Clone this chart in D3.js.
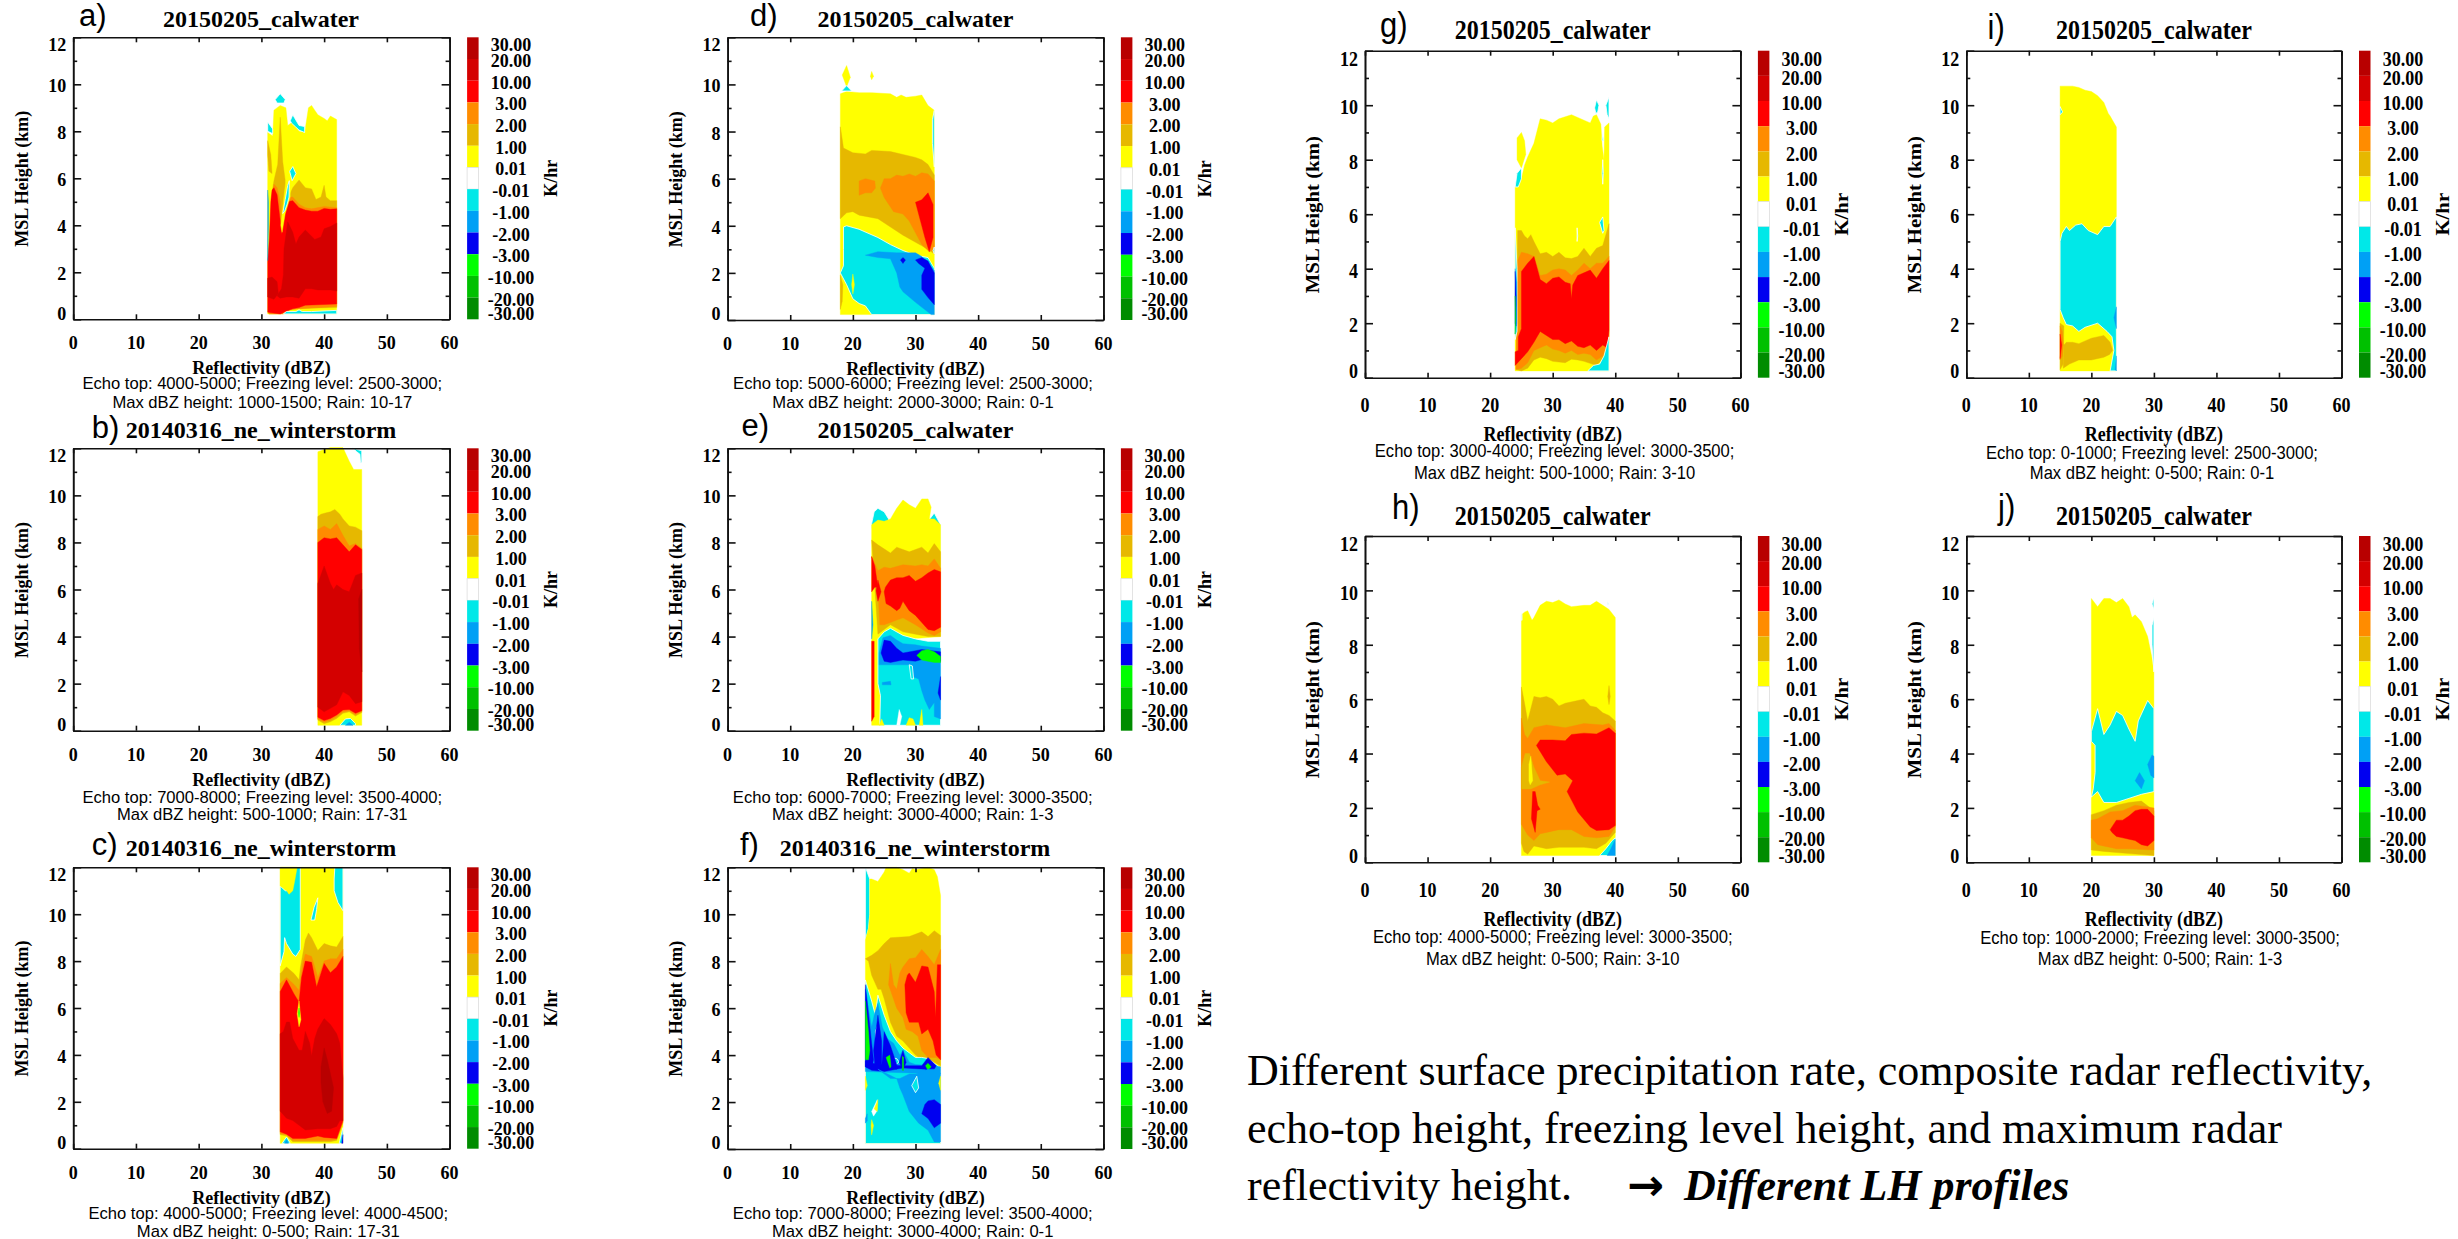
<!DOCTYPE html>
<html>
<head>
<meta charset="utf-8">
<script src="https://cdn.jsdelivr.net/npm/d3@7"></script>
<style>
  html, body { margin: 0; padding: 0; background: #fff; overflow: hidden; }
  svg { display: block; }
  .ax path, .ax line { stroke: #111; }
</style>
</head>
<body>
<div id="chart"></div>
<script>
// colour levels, top of the bar first
const levelLabels = ['30.00','20.00','10.00','3.00','2.00','1.00','0.01','-0.01','-1.00','-2.00','-3.00','-10.00','-20.00','-30.00'];
const bandColors = ['#b80000','#d40000','#ff0000','#ff8c00','#e6b800','#ffff00','#ffffff','#00e8e8','#00a0f5','#0000f0','#00ff00','#00c000','#008c00'];
const DRK = 0, RD2 = 1, RED = 2, ORG = 3, GLD = 4, YEL = 5, WHT = 6, CYN = 7, SKY = 8, BLU = 9, LIM = 10, GRN = 11;

const dbzTicks = [0, 10, 20, 30, 40, 50, 60];
const kmTicks = [0, 2, 4, 6, 8, 10, 12];
const kmMinor = [1, 3, 5, 7, 9, 11];

const panelNames = ['a)','b)','c)','d)','e)','f)','g)','h)','i)','j)'];
const panelTitles = ['20150205_calwater','20140316_ne_winterstorm','20140316_ne_winterstorm','20150205_calwater','20150205_calwater','20140316_ne_winterstorm','20150205_calwater','20150205_calwater','20150205_calwater','20150205_calwater'];
const captionTop = [
  'Echo top: 4000-5000; Freezing level: 2500-3000;',
  'Echo top: 7000-8000; Freezing level: 3500-4000;',
  'Echo top: 4000-5000; Freezing level: 4000-4500;',
  'Echo top: 5000-6000; Freezing level: 2500-3000;',
  'Echo top: 6000-7000; Freezing level: 3000-3500;',
  'Echo top: 7000-8000; Freezing level: 3500-4000;',
  'Echo top: 3000-4000; Freezing level: 3000-3500;',
  'Echo top: 4000-5000; Freezing level: 3000-3500;',
  'Echo top: 0-1000; Freezing level: 2500-3000;',
  'Echo top: 1000-2000; Freezing level: 3000-3500;'];
const captionBottom = [
  'Max dBZ height: 1000-1500; Rain: 10-17',
  'Max dBZ height: 500-1000; Rain: 17-31',
  'Max dBZ height: 0-500; Rain: 17-31',
  'Max dBZ height: 2000-3000; Rain: 0-1',
  'Max dBZ height: 3000-4000; Rain: 1-3',
  'Max dBZ height: 3000-4000; Rain: 0-1',
  'Max dBZ height: 500-1000; Rain: 3-10',
  'Max dBZ height: 0-500; Rain: 3-10',
  'Max dBZ height: 0-500; Rain: 0-1',
  'Max dBZ height: 0-500; Rain: 1-3'];

// filled contours: [band, [[dBZ, km], ...]], painted in order
const contoursA = [
  [YEL, [[31,7.95],[31.8,7.8],[32,8.9],[33,9.1],[33.9,9],[34.2,8.25],[35,8.4],[36,8],[36.9,7.95],[37.5,9],[38,9.1],[38.5,8.9],[39,8.7],[40,8.55],[40.5,8.45],[41,8.65],[42,8.5],[42,.23],[31,.23]]],
  [CYN, [[32.2,9.35],[33,9.6],[33.8,9.35],[33.6,9.2],[32.5,9.2]]],
  [CYN, [[31,8.4],[31.8,8.1],[31.8,7.9],[31,8]]],
  [CYN, [[34.6,8.45],[35,8.7],[36,8.25],[36.9,8.2],[36.9,7.95],[36,8.05],[35.4,8.2],[34.8,8.35]]],
  [CYN, [[34.5,6.3],[35,6.5],[35.5,6.2],[34.9,5.9]]],
  [GLD, [[31,7.6],[31.5,7],[31.7,6.2],[31.2,6.3],[31,7]]],
  [GLD, [[31.7,5.4],[32,5.9],[32.6,6.6],[33,8.6],[33.4,6.7],[33.8,5.9],[34.5,5.3],[35,5.6],[36,5.93],[37,5.6],[38,5.55],[38.7,5.1],[39.5,5.2],[40,5.7],[40.3,5.2],[41,5.05],[42,5.05],[42,.5],[35,.45],[34,.35],[33,.23],[31.2,.23],[31.2,3]]],
  [ORG, [[31.6,5],[32,5.75],[32.5,5.6],[33,5],[33.1,3.9],[33.5,4.9],[34,5.2],[35,5.2],[36,4.9],[37,4.75],[38,4.7],[40,4.8],[42,4.75],[42,.55],[36,.45],[34.5,.4],[33.5,.23],[31.2,.23],[31.2,3]]],
  [RED, [[31,2.5],[31.3,3.5],[31.5,5],[31.7,5.5],[32,5.6],[32.5,5.3],[33,4.2],[33.2,3.6],[33.6,4.7],[34,5],[35,5.05],[36,4.75],[37,4.65],[38,4.6],[39,4.6],[40,4.72],[41,4.68],[42,4.7],[42,.65],[37,.6],[36,.5],[35,.45],[34,.35],[33,.23],[31,.3]]],
  [RD2, [[33.5,1.9],[33.6,3],[34.2,4.15],[35,3.7],[35.5,3.2],[36,3.5],[37,3.8],[38.5,3.4],[39.5,3.5],[40,3.85],[41,3.95],[42,4.1],[42,1.2],[41,1.25],[39,1.25],[38,1.3],[37,1.3],[36,.9],[35,.95],[34,.95],[33,.9],[32.5,1],[33.2,1.3]]],
  [RD2, [[31,.95],[31,1.75],[31.7,1.8],[32.5,1.6],[32.7,1.1],[32,.85]]],
  [YEL, [[33.1,4],[33.5,5],[33.9,5.9],[34.6,6],[34.6,5.2],[33.8,4.5],[33.3,3.7]]],
  [CYN, [[33.4,4.5],[33.8,5.1],[34.2,5.7],[34.45,5.9],[34.4,5.2],[34.1,4.9],[33.7,4.6]]],
  [SKY, [[31,2.5],[31.12,4],[31.12,5],[31,5.5]]],
  [CYN, [[33.5,.23],[34,.33],[35.5,.33],[36,.4],[36.5,.33],[38,.33],[42,.38],[42,.23]]]
];

const contoursB = [
  [YEL, [[39,11.85],[40,11.95],[41,12.03],[43,12.03],[44,11.45],[44.7,11.1],[46,11.1],[46,.23],[39,.23]]],
  [CYN, [[44.5,12.03],[45.2,11.95],[46,11.9],[46,11.4],[45.8,11.4],[45.7,11.75],[45.2,11.85]]],
  [GLD, [[39,9.1],[39.5,9.2],[40.2,9.25],[41,9.3],[41.7,9.4],[42.5,9.2],[43,9],[44,8.7],[45,8.65],[46,8.5],[46,.77],[45,.62],[44,.8],[43,.74],[42,.52],[41,.38],[40,.3],[39,.45]]],
  [ORG, [[39,8.55],[40,8.7],[41,8.55],[42,8.8],[43,8.3],[44,7.85],[45,7.95],[46,7.75],[46,.82],[45,.68],[44,.85],[43,.8],[42,.6],[41,.45],[40,.37],[39,.5]]],
  [RED, [[39,8],[40,8.2],[41,8.15],[42,8.2],[43,7.9],[44,7.6],[45,7.9],[46,7.7],[46,.85],[45,.74],[44,.9],[43,.88],[42,.67],[41,.52],[40,.43],[39,.57]]],
  [RD2, [[39,6.25],[40,7],[41,6.25],[41.5,6],[42,6.2],[43,6],[44,5.9],[45,6.6],[46,6.7],[46,1.23],[45,1.15],[44,1.5],[43,1.65],[42,1.1],[40,.8],[39,1]]],
  [DRK, [[45.5,5.6],[46,6],[46,2.5],[45.6,3.5]]],
  [CYN, [[42.5,.23],[43.4,.5],[44.2,.52],[45,.3],[45,.23]]],
  [SKY, [[43.4,.23],[44,.36],[44.6,.23]]]
];

const contoursC = [
  [YEL, [[33,12],[43,12],[43,.23],[33,.23]]],
  [CYN, [[33,11.2],[33,7.8],[33.6,8.4],[33.7,9],[34,8.75],[35,8.3],[35.5,8.2],[36.2,8.5],[36.2,12],[35.4,12],[34.8,11],[33.8,11]]],
  [YEL, [[33,12],[35.7,12],[35.3,11.4],[35,11],[34.4,10.85],[33.8,11.1],[33,11.2]]],
  [CYN, [[41.7,12],[43,12],[43,10.15],[42.2,10.5],[41.6,11],[41.6,11.5]]],
  [CYN, [[37.9,9.75],[38.4,10.3],[39,10.7],[38.8,10.2],[38.5,9.75]]],
  [GLD, [[33,7.47],[34,7.75],[35.2,7.47],[36,7.2],[36.2,7.7],[37,8.9],[37.5,9.2],[38,9],[39,8.45],[40,8.75],[41,8.65],[42,8.6],[43,9.05],[43,1.1],[42,.35],[41,.3],[39,.3],[36,.3],[35,.3],[34,.55],[33,.6]]],
  [ORG, [[33,7.05],[34,7.3],[35.2,7],[36,6.75],[36.6,7.9],[37,8.3],[38,8.2],[39,7.3],[40,8],[41,8.1],[42,8.1],[43,8.5],[43,1.15],[42,.4],[41,.35],[39,.35],[36,.35],[35,.36],[34,.6],[33,.65]]],
  [RED, [[33,6.7],[34,7.2],[35.2,6.6],[36,6.25],[36.4,7.3],[37,8],[38,7.95],[38.8,6.9],[40,7.9],[41,7.5],[42,7.75],[43,8.2],[43,1.2],[42,.44],[40,.48],[39,.54],[37,.44],[35,.44],[34,.62],[33,.72]]],
  [RD2, [[33,4.9],[33.5,5],[34,5.4],[34.5,5.4],[35,4.7],[36,4.2],[36.5,4.2],[37,5],[37.7,4.5],[38,3.95],[38.5,4.7],[39,5.1],[40,5.55],[41,5.3],[42,4.9],[42.5,4.5],[43,3],[43,1.2],[42.5,1.2],[42,.95],[41,.85],[39,.85],[37,.8],[36,1],[35,1.2],[34,1.3],[33,1.6]]],
  [DRK, [[39.5,3.5],[40,4.3],[40.5,3.8],[41.5,2.6],[41.2,1.6],[40.5,1.5],[39.8,2],[39.5,2.8]]],
  [YEL, [[35.7,5.75],[36,6.3],[36.3,5.5],[36,5.2]]],
  [LIM, [[35.9,5.8],[36,6],[36.1,5.8],[36,5.6]]],
  [CYN, [[33.3,.23],[34,.5],[34.6,.23]]],
  [SKY, [[33.7,.23],[34,.38],[34.3,.23]]],
  [CYN, [[42.4,.23],[43,.9],[43,.23]]],
  [BLU, [[42.8,.23],[43,.6],[43,.23]]]
];

const contoursD = [
  [YEL, [[18,9.6],[19,9.7],[21,9.65],[23,9.65],[26,9.6],[27,9.45],[27.7,9.55],[28.5,9.45],[30,9.5],[31,9.55],[32,9.1],[33,8.9],[33,.23],[18,.23]]],
  [YEL, [[18.3,10.4],[19,10.8],[19.6,10.3],[19,9.9]]],
  [YEL, [[23,10.55],[23.3,10.35],[23,10.2],[22.8,10.35]]],
  [CYN, [[18.2,9.72],[19,9.95],[19.8,9.72]]],
  [CYN, [[33,8.9],[32.7,8.5],[32.7,7.5],[33,6.5]]],
  [GLD, [[18,8.2],[18.5,7.3],[20,7.1],[22,7.05],[23,7.2],[26,7.15],[30,6.9],[31,6.8],[32,6.6],[33,6.15],[33,2.8],[32,3],[30,3.3],[28,3.6],[26,3.95],[24,4.3],[21,4.45],[20,4.6],[19,4.55],[18,4.3]]],
  [ORG, [[21,5.3],[21,5.9],[22,6],[23.5,5.9],[23.6,5.6],[23,5.4],[22,5.4]]],
  [ORG, [[24.4,5.6],[25,6],[26,6],[27,6.15],[28,6.1],[29,6.2],[30,6.1],[31,6.25],[32,6.2],[33,5.9],[33,3],[32.2,2.9],[31,3.2],[30,3.7],[29,4.2],[28,4.5],[26.5,4.6],[25,5.2]]],
  [RED, [[30,5],[31,5.1],[32,5.4],[32.8,4.9],[32.8,3.5],[32.2,2.9],[31.5,3.5],[30.8,4.2]]],
  [CYN, [[18.5,3.95],[19,4],[21,3.85],[24,3.5],[26,3.2],[28,2.95],[30,2.75],[31,2.7],[32,2.65],[33,2.2],[33,.23],[23,.23],[22,.6],[21,.7],[20,.9],[19,1.5],[18,2],[18.5,2.3],[18.5,3]]],
  [SKY, [[22,2.75],[24,2.9],[27,2.85],[30,2.85],[31,2.7],[33,2.1],[33,.23],[32.5,.23],[30,.75],[28,1.2],[27.5,1.4],[27,2],[26,2.6],[24,2.65]]],
  [BLU, [[30,2.55],[31,2.65],[32,2.5],[33,2],[33,.65],[32,.95],[31,1.3],[31,1.9],[31.5,2.2],[30.5,2.4]]],
  [BLU, [[27.6,2.55],[28,2.65],[28.4,2.55],[28,2.4]]],
  [YEL, [[20,1.95],[20.25,1.5],[20,1.1],[19.8,1.5]]],
  [GLD, [[18,.45],[18.3,.8],[18.4,1.5],[18,1.9]]],
  [CYN, [[33,3.1],[32.8,2.95],[33,2.8]]]
];

const contoursE = [
  [CYN, [[23,8.8],[23.4,9.3],[24,9.45],[25,9.3],[25.7,9],[25.7,8.6],[23,8.6]]],
  [CYN, [[32,8.9],[33,9.25],[33.7,8.9],[34,8.75],[34,7.5],[33.8,7.5],[33.8,8.6],[32,8.6]]],
  [YEL, [[23,8.75],[24,8.95],[25,8.9],[26,9],[27,9.45],[28,9.8],[29,9.6],[30,9.45],[31,9.85],[32,9.85],[32.5,9.5],[32.2,9],[33,9],[34,8.75],[34,4],[24.4,3.8],[24.4,.23],[23,.23]]],
  [GLD, [[23,8.1],[24,7.9],[26,7.55],[27,7.8],[29,7.6],[31,7.8],[32,7.55],[33,7.95],[34,7.6],[34,4],[32,4],[30,4.1],[28,4.2],[26,4.5],[25,4.3],[24,4.1]]],
  [ORG, [[23,7.4],[24,6.8],[25,6.95],[26,6.9],[28,7.05],[30,7],[31,7.05],[32,7],[33,7.3],[34,6.9],[34,4.2],[33,4.05],[32,4.15],[30,4.5],[28,4.8],[27,4.7],[26,4.6],[25,4.5],[24.3,4.5],[24,6]]],
  [RED, [[23,7.4],[23.5,7],[24,6.1],[23.5,6.1],[23,5.9]]],
  [RED, [[23.7,5.95],[24,6.4],[24.5,5.9],[24,5.5]]],
  [RED, [[25,5.9],[25.2,6.1],[26,6.4],[27,6.5],[28,6.5],[29,6.6],[30,6.35],[31,6.5],[32,6.7],[33,6.85],[34,6.75],[34,4.4],[33,4.25],[32,4.3],[31,4.6],[30,4.9],[29,5.1],[28,5.5],[27.5,5.2],[27,5.1],[26,5.3],[25.3,5.4]]],
  [CYN, [[24,3.9],[25,4.2],[26,4.35],[28,4.05],[30,3.9],[32,3.8],[34,3.8],[34,.23],[24.3,.23],[24.4,1.5],[24,2]]],
  [SKY, [[24.8,3.95],[26,4.05],[27,3.85],[28,3.7],[30,3.65],[31,3.6],[34,3.5],[34,.5],[33,.6],[33,1.2],[32.2,.9],[31.5,1.3],[31,1.7],[30.5,2.2],[29.5,2.3],[29.5,2.8],[24.2,2.8],[24.2,3.3]]],
  [CYN, [[29,2.8],[29.5,2.75],[29.7,2.2],[29.3,2.2]]],
  [BLU, [[24.5,3.3],[25,3.85],[26,3.8],[27,3.5],[28,3.3],[30,3.4],[31,3.45],[34,3.35],[34,2.95],[32,3.1],[30,2.95],[28,3],[26,2.9],[25,2.95]]],
  [LIM, [[30.2,3.2],[31,3.4],[32,3.45],[33,3.35],[34,3.15],[34,2.9],[33,2.9],[32,2.95],[31,3]]],
  [BLU, [[34,2.3],[33.6,1.6],[34,1.3]]],
  [SKY, [[24.7,2.05],[26,2.1],[26.1,1.95],[24.7,1.95]]],
  [YEL, [[24.2,.23],[24.6,.5],[25,.23]]],
  [WHT, [[27,.23],[27.4,.9],[27.8,.6],[27.5,.23]]],
  [YEL, [[28.5,.23],[29,.55],[29.6,.5],[30,.23]]],
  [YEL, [[30.6,.23],[31,.9],[31.2,.23]]],
  [RED, [[23,3.8],[23.4,3.8],[23.4,.6],[23,.4]]],
  [SKY, [[23,5.5],[23.2,4.5],[23,3.9]]]
];

const contoursF = [
  [CYN, [[22,12],[22.7,11.5],[22.7,10],[22.5,9.4],[22,8.9]]],
  [YEL, [[23,11.5],[24,11.4],[25,11.8],[25.3,12],[27,12],[28,11.9],[29,11.75],[29.5,11.95],[30,11.9],[32,12],[33,11.9],[33.5,11.6],[34,10.8],[34,.23],[22,.23],[22,8.9],[22.5,9.4],[22.7,10],[22.7,11.5]]],
  [GLD, [[22,8.1],[23,8.25],[24,8.45],[25,8.75],[26,9],[29,9.05],[31,9.25],[32,9.05],[33,9.3],[34,9.1],[34,3.55],[33,3.7],[32,3.85],[31,3.8],[30,4],[29,4.3],[28,4.6],[27,4.8],[26,5.4],[25,6.4],[24.5,6.8],[24,6.8],[23,7.4],[22.5,8]]],
  [ORG, [[25.7,7],[26,7.9],[26.5,7],[27,6.8],[27.5,7.5],[28,7.75],[29,8.1],[30,8.15],[31,8.5],[32,8.2],[33,7.85],[34,8.5],[34,3.8],[33.3,3.9],[32,3.9],[31,4.2],[30.4,4.8],[29.5,5],[28.5,5.1],[28,5.6],[27,6]]],
  [RED, [[28.3,7],[28.7,7.4],[29,7.5],[30,7.1],[31,7.8],[32,7.75],[33,6.7],[33.2,5.6],[33.5,7.85],[34,7.85],[34,3.8],[33.3,4],[32.8,4.6],[32,5.1],[31,4.9],[30.5,5.4],[29,5.4],[28.5,5.8]]],
  [CYN, [[22,7.2],[23,6.3],[23.6,5.7],[24,6.55],[25,5.7],[26,5],[27,4.6],[28,4.3],[29,4.1],[30,3.9],[31,3.9],[32,3.85],[33,3.65],[34,3.45],[34,.23],[22,.23]]],
  [SKY, [[22,6.8],[22.8,5.5],[23,5.2],[23.5,5.8],[24,6.2],[24.7,5.2],[25.5,4.7],[26.5,4.5],[27.5,4],[28,4.2],[29,3.7],[30,3.6],[33,3.55],[34,3.5],[34,3.2],[22,3.3]]],
  [CYN, [[23.6,5],[24,5.3],[24.4,4.5],[24.2,3.9],[23.8,3.9]]],
  [CYN, [[26,3.9],[27,3.85],[27.4,3.7],[26.8,3.6]]],
  [BLU, [[22,7],[22.6,5.5],[23,4.5],[23.3,3.8],[23,3.4],[22,3.5]]],
  [BLU, [[23.3,4.2],[24,5.7],[24.6,4.6],[24.6,3.6],[23.5,3.6]]],
  [BLU, [[25,5],[26,4.4],[27,3.6],[27,3.4],[24.6,3.5],[24.8,4.2]]],
  [BLU, [[27.4,3.7],[28,4.2],[28.5,3.7],[28,3.35]]],
  [BLU, [[22,3.75],[23,3.65],[25,3.6],[28,3.55],[31,3.55],[32,3.9],[33.3,3.55],[32.4,3.1],[32,3.1],[31.6,3.4],[28,3.45],[25,3.3],[23,3.35],[22,3.5]]],
  [LIM, [[22,6.3],[22.5,5],[22.7,4.2],[22.5,3.8],[22,3.8]]],
  [LIM, [[25.3,3.9],[25.9,4],[26.1,3.5],[25.9,3.45]]],
  [LIM, [[27.9,3.95],[28.1,3.9],[28.1,3.35],[27.9,3.35]]],
  [LIM, [[31.6,3.55],[32,3.65],[32.5,3.5],[32,3.35]]],
  [SKY, [[24,3.4],[26,3],[27,3],[27.5,3],[29,3.2],[30,3.2],[32,3.4],[33.5,3.4],[34,3.2],[34,.3],[33,.3],[32,.8],[30.5,1.1],[29,1.6],[28,2.3],[27.5,2.6],[27,3]]],
  [CYN, [[29.4,2.7],[30.2,3.1],[30.5,2.6],[30,2.4]]],
  [BLU, [[31,1.5],[31.5,1.9],[32,2.05],[33,2.1],[34,1.9],[34,1.1],[33,.9],[32,1.3]]],
  [YEL, [[22,3.1],[22.3,2.7],[22,2.5]]],
  [YEL, [[34,3.1],[33.7,2.8],[34,2.5]]],
  [WHT, [[23,1.6],[23.9,2.1],[23.8,1.6],[23.3,1.4]]],
  [YEL, [[23.4,1.7],[24,2.1],[23.9,1.6]]],
  [YEL, [[23,1.25],[23.3,1],[23,.6],[22.9,1]]],
  [SKY, [[22,1.3],[22.3,1.5],[22.3,1.2],[22,1.1]]]
];

const contoursG = [
  [YEL, [[24.3,8],[24.3,8.8],[25,9],[25.5,8.7],[25.7,8.2],[25,7.7]]],
  [YEL, [[24,7],[25,7.3],[25.5,7.8],[26,8.1],[27,8.6],[28,9.5],[29,9.45],[30,9.35],[31,9.5],[33,9.65],[35,9.45],[36,9.35],[36.5,9.6],[37,9.65],[37.7,9.3],[37.9,8.5],[38.2,8],[38.3,9.2],[39,9.35],[39,.25],[24,.25]]],
  [CYN, [[24,7],[24.3,7.5],[25,7.7],[25,7.3],[24.5,7]]],
  [CYN, [[36.7,9.9],[37,10.2],[37.4,10],[37.2,9.75],[36.9,9.7]]],
  [CYN, [[38.5,10],[39,10.3],[39,9.5],[38.7,9.65]]],
  [CYN, [[38,9],[38.1,8.7],[37.9,8.7]]],
  [CYN, [[38,8],[38.1,7.5],[38,7.1],[37.9,7.5]]],
  [CYN, [[37.5,5.7],[38,5.9],[38.2,5.4],[38,5.3]]],
  [CYN, [[33.9,5.5],[34,5.2],[33.9,5]]],
  [GLD, [[24.4,5.4],[25,5.4],[25.5,5.2],[26,5.1],[26.5,5.25],[27,5],[28,4.55],[29,4.6],[30,4.45],[31,4.6],[32,4.4],[33,4.37],[34,4.45],[35,4.75],[36,4.45],[37,4.75],[38,4.85],[39,5.65],[39,1.3],[38,.7],[37,.45],[35,.6],[34,.65],[33,.68],[32,.55],[30,.6],[29,.7],[28,.75],[27,.65],[26,.35],[25,.25],[24.2,.3]]],
  [ORG, [[24.4,4.3],[25,4.6],[26,4.55],[27,4.45],[28,3.75],[29,3.8],[30,3.95],[31,4],[32,3.95],[33,3.75],[34,3.95],[35,4.2],[36,4],[37,4.2],[38,4.2],[39,4.45],[39,1.4],[38,.8],[37,.65],[36,.85],[35,.9],[34,.85],[33,1],[32,.9],[31,1],[30,1.05],[29,1.2],[28,1.1],[27,1],[26,.55],[25,.35],[24.1,.3]]],
  [RED, [[25,3.9],[26,4.2],[27,4.45],[28,3.6],[29,3.45],[30,3.65],[31,3.7],[32,3.5],[32.8,3.45],[33,2.9],[33.2,3.4],[34,3.75],[35,3.85],[36,3.95],[37,3.65],[38,4],[39,4.3],[39,1.75],[38.7,1.1],[38,1.2],[37,1],[36,1.2],[35,1.1],[34,1.15],[33,1.35],[32,1.25],[31,1.4],[30,1.4],[29,1.55],[28,1.7],[27,1.3],[26,.95],[25,.7],[24,.45],[24,.95],[24.5,1],[24.5,1.5],[25,1.8]]],
  [CYN, [[35.6,.25],[36.5,.45],[37.5,.5],[38.2,.8],[39,1.5],[39,.25]]],
  [CYN, [[24,5.5],[24.3,4],[24.3,1.7],[24,1.4]]],
  [SKY, [[24,4],[24.25,3.5],[24.25,2],[24,1.6]]],
  [BLU, [[24,3.9],[24.15,3],[24.12,1.9],[24,2]]],
  [LIM, [[24,3],[24.1,2.2],[24,1.6]]]
];

const contoursH = [
  [YEL, [[25,.25],[25,9.1],[25.5,9.2],[26,9.25],[26.7,8.9],[27,9],[28,9.45],[29,9.6],[30,9.55],[31,9.65],[32,9.5],[33,9.4],[35,9.45],[36,9.45],[37,9.6],[38,9.45],[39,9.3],[40,9],[40,.25]]],
  [CYN, [[25,9.2],[25.1,9.1],[25.1,8.9],[25,8.9]]],
  [CYN, [[38.8,9.6],[38.9,9.5],[38.8,9.45]]],
  [GLD, [[38.8,6.1],[39,6.5],[39.2,6.1],[39,5.8]]],
  [GLD, [[25,6.45],[25.5,5.85],[26,5.2],[27,6.1],[28,6.05],[29,6.1],[30,6],[31,5.75],[32,5.85],[34,5.95],[35,6],[36,5.75],[37,5.7],[38,5.5],[39,5.4],[40,5.2],[40,1.1],[38.5,.7],[37,.5],[35,.55],[31,.55],[29,.5],[27,.6],[26,.3],[25.4,.4],[25,.7]]],
  [ORG, [[25,5.3],[25.5,4.7],[26,4.55],[27,4.95],[29,5.05],[32,4.95],[35,5.1],[38,5.05],[39,5.1],[40,4.85],[40,1.3],[39,.95],[37,.9],[35,.95],[33,1.2],[31,1.2],[29,1.1],[28,1.05],[27,.8],[26,1],[25,1.4]]],
  [RED, [[27.4,4.3],[28,4.5],[30,4.5],[32,4.47],[33,4.7],[35,4.75],[37,4.72],[39,4.95],[40,4.75],[40,1.35],[39,1.2],[37,1.17],[36,1.3],[34,1.85],[32.3,2.6],[33.2,3],[32,3.25],[30.7,3.2],[29,3.7]]],
  [GLD, [[25,2.7],[25,3.5],[25.6,4],[26.3,4],[27,3.5],[28,3],[29.5,2.95],[28,2.85],[26.5,2.7]]],
  [YEL, [[26.2,3],[26.2,3.6],[26.5,3.9],[26.8,3],[26.4,2.85]]],
  [RED, [[26.8,2.6],[27.2,2.6],[27.6,2.1],[28,1.95],[27.5,1.9],[27.2,1.1],[26.6,1.6]]],
  [CYN, [[37.5,.25],[38.5,.5],[39.5,.8],[40,.9],[40,.25]]],
  [SKY, [[38.7,.25],[39.3,.5],[40,.85],[40,.25]]]
];

const contoursI = [
  [YEL, [[15,.25],[15,10.7],[17,10.7],[18,10.65],[19,10.55],[20,10.5],[21,10.35],[22,10.1],[22.7,9.7],[23,9.6],[24,9.2],[24,.25]]],
  [CYN, [[15,9.65],[15.4,9.75],[15,9.95]]],
  [CYN, [[15,5],[15.3,5.3],[16,5.55],[16.5,5.4],[17.5,5.6],[18.5,5.65],[19.5,5.4],[21,5.25],[22,5.55],[23,5.55],[24,5.9],[24,.25],[23,.25],[23.6,1],[23.3,1.5],[22.5,1.7],[21,2],[19,1.85],[18,1.7],[17,1.9],[16,1.95],[15.5,2.2],[15,2.5]]],
  [SKY, [[24,2.6],[23.6,2.2],[24,1.8]]],
  [SKY, [[24,.8],[23.8,.3],[24,.25]]],
  [GLD, [[15.5,.35],[15.6,1.2],[16,1.3],[17,1.3],[18,1.25],[19,1.35],[20,1.45],[22,1.55],[23,1.3],[23.4,1],[22.9,.85],[22,.75],[20,.65],[18,.65],[16.5,.5]]],
  [GLD, [[15,.3],[15.5,.5],[15.6,1.9],[15,2]]],
  [ORG, [[15,1.9],[15.35,1.7],[15.5,1.2],[15.35,.8],[15,.65]]],
  [RED, [[15,1.6],[15.25,1.2],[15,.7]]]
];

const contoursJ = [
  [YEL, [[20,.25],[20,9.7],[21,9.4],[22,9.7],[23,9.7],[24,9.55],[25,9.7],[26,9.4],[26.5,9],[27,9.1],[28,8.85],[29,8.3],[29.7,7.5],[30,7],[30,.25]]],
  [CYN, [[30,9],[29.7,8.7],[29.7,8],[30,7]]],
  [CYN, [[29.7,9.5],[30,9.75],[30,9.3]]],
  [CYN, [[20,4.8],[21,5.65],[22,4.7],[23,5.05],[24,5.55],[25,5.4],[26,4.9],[27,4.45],[27.5,5.2],[29,5.95],[30,5.65],[30,2.6],[28,2.5],[26,2.35],[24,2.2],[22,2.2],[21,2.6],[20,2.4],[20.3,2.7],[20.6,3.3],[20.6,4.3],[20,4.45]]],
  [SKY, [[27,3],[27.7,3.3],[28.5,3],[28,2.7]]],
  [SKY, [[29,3.6],[29.7,3.95],[30,3.9],[30,3.1],[29.5,3.2]]],
  [GLD, [[20,1.75],[22,1.9],[24,2.1],[26,2.2],[28,2.25],[30,1.9],[30,.25],[26,.32],[22,.4],[20,.45]]],
  [ORG, [[20,1.55],[21,1.6],[23,1.85],[25,1.9],[27,2.1],[30,2],[30,.45],[26,.5],[24,.5],[21,.65],[20,.9]]],
  [RED, [[23,1.2],[24,1.55],[25,1.55],[26,1.7],[27,1.9],[28,1.95],[29,1.95],[30,1.7],[30,.8],[29,.6],[28,.65],[27,.8],[26,.85],[25,.9],[24,.95],[23.3,1.1]]]
];

const panelContours = [contoursA, contoursB, contoursC, contoursD, contoursE, contoursF, contoursG, contoursH, contoursI, contoursJ];

const noteLines = ['Different surface precipitation rate, composite radar reflectivity,', 'echo-top height, freezing level height, and maximum radar', 'reflectivity height.'];
const noteArrow = '\u2192';
const noteResult = 'Different LH profiles';

// page layout, in pixels: plot box, then title, panel letter and caption anchors
const layout = [
  {l: 73.2,  r: 449.6,  t: 37.3,  b: 319.3, sy: 1,     titleX: 261,    titleY: 19,    nameX: 79,     nameY: 26,   capX: 262.3,  capY: [382.7, 401.7]},
  {l: 73.2,  r: 449.6,  t: 448.3, b: 730.7, sy: 1,     titleX: 261,    titleY: 430,   nameX: 91.7,   nameY: 438,  capX: 262.3,  capY: [796.7, 814]},
  {l: 73.2,  r: 449.6,  t: 867.3, b: 1148.7, sy: 1,    titleX: 261,    titleY: 848,   nameX: 91.7,   nameY: 855,  capX: 268.3,  capY: [1213.3, 1231]},
  {l: 727.6, r: 1103.4, t: 37.3,  b: 320,   sy: 1,     titleX: 915.4,  titleY: 19,    nameX: 750,    nameY: 26,   capX: 913,    capY: [382.7, 401.7]},
  {l: 727.6, r: 1103.4, t: 448.3, b: 730.7, sy: 1,     titleX: 915.4,  titleY: 430,   nameX: 741.4,  nameY: 435.7, capX: 912.7, capY: [796.7, 814]},
  {l: 727.6, r: 1103.4, t: 867.3, b: 1149,  sy: 1,     titleX: 915,    titleY: 848,   nameX: 740,    nameY: 855,  capX: 912.7,  capY: [1213.3, 1230.7]},
  {l: 1365,  r: 1740.4, t: 50.7,  b: 377.7, sy: 1.157, titleX: 1552.7, titleY: 29.3,  nameX: 1380,   nameY: 36.7, capX: 1554.6, capY: [450.7, 472.3]},
  {l: 1365,  r: 1740.4, t: 536,   b: 862.3, sy: 1.157, titleX: 1552.7, titleY: 515,   nameX: 1392,   nameY: 519,  capX: 1552.7, capY: [936, 958.3]},
  {l: 1966.3, r: 2341.5, t: 50.7, b: 377.7, sy: 1.157, titleX: 2154,   titleY: 29.3,  nameX: 1987.6, nameY: 39,   capX: 2152,   capY: [452.3, 472.7]},
  {l: 1966.3, r: 2341.5, t: 536,  b: 862.3, sy: 1.157, titleX: 2154,   titleY: 515,   nameX: 1998,   nameY: 519,  capX: 2160,   capY: [937.3, 958.3]}
];

const SERIF = '"Liberation Serif", serif';
const SANS = '"Liberation Sans", sans-serif';

const svg = d3.select('#chart').append('svg')
  .attr('width', 2458)
  .attr('height', 1239);

// all text goes through here, sy stretches it vertically like the source image
function label(g, str, x, y, o) {
  const rot = o.rot ? ` rotate(${o.rot})` : '';
  return g.append('text')
    .attr('transform', `translate(${x},${y}) scale(1,${o.sy || 1})${rot}`)
    .attr('dy', o.dy === undefined ? '.35em' : o.dy)
    .attr('text-anchor', o.anchor || 'middle')
    .style('font-family', o.family || SERIF)
    .style('font-size', o.size + 'px')
    .style('font-weight', o.weight || 'normal')
    .style('fill', o.fill || '#000')
    .text(str);
}

function drawPanel(i) {
  const box = layout[i];
  const sy = box.sy;
  const g = svg.append('g').attr('class', 'panel');

  const x = d3.scaleLinear().domain([0, 60]).range([box.l, box.r]);
  const y = d3.scaleLinear().domain([0, 12]).range([box.b, box.t]);
  const line = d3.line().x(d => x(d[0])).y(d => y(d[1])).curve(d3.curveLinearClosed);

  // filled contours, white rim on the first negative band as in the source
  g.selectAll('.band')
    .data(panelContours[i])
    .enter().append('path')
    .attr('class', 'band')
    .attr('d', d => line(d[1]))
    .attr('fill', d => bandColors[d[0]])
    .attr('stroke', d => d[0] === CYN ? '#fff' : bandColors[d[0]])
    .attr('stroke-width', d => d[0] === CYN ? 0.8 : 0.4);

  // frame and inward ticks
  const axes = [
    [d3.axisBottom(x).tickValues(dbzTicks).tickSize(-5), `translate(0,${box.b})`],
    [d3.axisTop(x).tickValues(dbzTicks).tickSize(-5), `translate(0,${box.t})`],
    [d3.axisLeft(y).tickValues(kmTicks).tickSize(-8), `translate(${box.l},0)`],
    [d3.axisRight(y).tickValues(kmTicks).tickSize(-8), `translate(${box.r},0)`],
    [d3.axisLeft(y).tickValues(kmMinor).tickSize(-4), `translate(${box.l},0)`],
    [d3.axisRight(y).tickValues(kmMinor).tickSize(-4), `translate(${box.r},0)`]
  ];
  axes.forEach(([axis, tr]) => {
    g.append('g').attr('class', 'ax').attr('transform', tr)
      .call(axis.tickFormat('').tickSizeOuter(0))
      .call(a => a.selectAll('path,line').attr('stroke-width', 1.6));
  });

  // tick labels, the end ones are pulled inside like in the source
  dbzTicks.forEach(v => label(g, v, x(v), box.b + 23.7 * sy, {size: 18, weight: 'bold', sy}));
  kmTicks.forEach(v => {
    const off = v === 12 ? 7 : v === 0 ? -6 : 1.7;
    label(g, v, box.l - 7, y(v) + off * sy, {size: 18, weight: 'bold', anchor: 'end', sy});
  });

  label(g, 'MSL Height (km)', box.l - 52, (box.t + box.b) / 2 + 0.5, {size: 18, weight: 'bold', rot: -90, sy});
  label(g, 'Reflectivity (dBZ)', (box.l + box.r) / 2, box.b + 48.5 * sy, {size: 18, weight: 'bold', sy});

  label(g, panelTitles[i], box.titleX, box.titleY, {size: 24, weight: 'bold', sy});
  label(g, panelNames[i], box.nameX, box.nameY, {size: 31, family: SANS, anchor: 'start', dy: 0, sy});
  label(g, captionTop[i], box.capX, box.capY[0], {size: 16.6, family: SANS, sy});
  label(g, captionBottom[i], box.capX, box.capY[1], {size: 16.6, family: SANS, sy});

  // colour bar
  const barX = box.r + 17.5;
  const bar = d3.scalePoint().domain(levelLabels).range([box.t, box.b]);
  g.selectAll('.swatch')
    .data(bandColors)
    .enter().append('rect')
    .attr('class', 'swatch')
    .attr('x', barX)
    .attr('y', (d, k) => bar(levelLabels[k]))
    .attr('width', 11.5)
    .attr('height', (d, k) => bar(levelLabels[k + 1]) - bar(levelLabels[k]))
    .attr('fill', d => d)
    .attr('stroke', (d, k) => k === WHT ? '#ddd' : 'none')
    .attr('stroke-width', 0.8);

  levelLabels.forEach((s, k) => {
    const off = k === 0 ? 7 : k === levelLabels.length - 1 ? -6 : 1.7;
    label(g, s, box.r + 61.4, bar(s) + off * sy, {size: 18, weight: 'bold', sy});
  });
  label(g, 'K/hr', box.r + 101.5, (box.t + box.b) / 2, {size: 18, weight: 'bold', rot: -90, sy});
}

d3.range(panelNames.length).forEach(drawPanel);

// closing note bottom right, runs off the page edge as in the source
const note = svg.append('g').attr('class', 'note');
[1085, 1142.7, 1200].forEach((base, k) => {
  label(note, noteLines[k], 1247, base, {size: 44, anchor: 'start', dy: 0});
});
label(note, noteArrow, 1627, 1200, {size: 44, family: '"DejaVu Sans", sans-serif', weight: 'bold', anchor: 'start', dy: 0});
label(note, noteResult, 1684, 1200, {size: 44, weight: 'bold', anchor: 'start', dy: 0}).style('font-style', 'italic');
</script>
</body>
</html>
